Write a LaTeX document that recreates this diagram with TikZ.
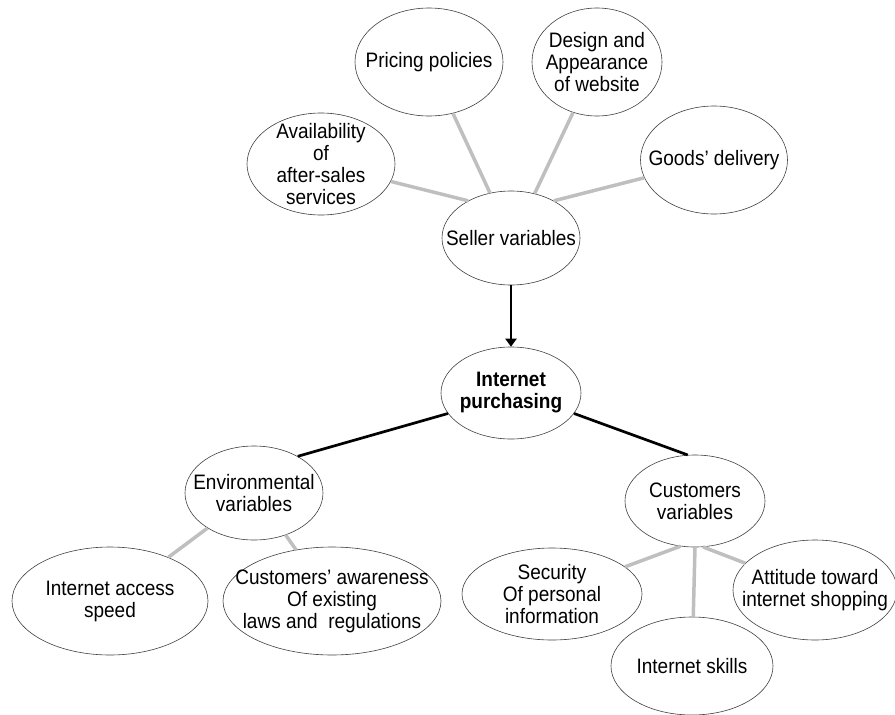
\documentclass[tikz,border=0pt]{standalone}
\usepackage{fontspec}
\setmainfont{Liberation Sans}
\usepackage{tikz}
\usetikzlibrary{shapes.geometric, arrows.meta}

\tikzset{
  bubble/.style={ellipse, draw=black!75, line width=0.6pt, fill=white, inner sep=0pt},
  txt/.style={align=center, font=\fontsize{19}{20}\selectfont, transform shape, yscale=1.1},
  graylink/.style={line width=3.5pt, black!25},
  blacklink/.style={line width=2.7pt, black},
}

\begin{document}
\begin{tikzpicture}[x=1pt, y=-1pt]
  \useasboundingbox (0,0) rectangle (895,715);

  % Seller side
  \node[bubble, minimum width=148, minimum height=108, label={[txt]center:Pricing policies}] (pricing) at (429,62) {};
  \node[bubble, minimum width=130, minimum height=108, label={[txt]center:Design and\\Appearance\\of website}] (design) at (597,62) {};
  \node[bubble, minimum width=148, minimum height=102, label={[txt]center:Availability\\of\\after-sales\\services}] (avail) at (321,164) {};
  \node[bubble, minimum width=147, minimum height=108, label={[txt]center:Goods’ delivery}] (goods) at (714,160) {};
  \node[bubble, minimum width=138, minimum height=94, label={[txt]center:Seller variables}] (seller) at (511,238) {};

  \draw[graylink] (avail) -- (seller.139);
  \draw[graylink] (pricing) -- (seller.115);
  \draw[graylink] (design) -- (seller.62);
  \draw[graylink] (goods) -- (seller.41);

  % Centre
  \node[bubble, minimum width=140, minimum height=92, label={[txt, font=\fontsize{19}{20}\selectfont\bfseries]center:Internet\\purchasing}] (purch) at (511,393) {};
  \draw[line width=2.7pt, -{Triangle[length=8pt, width=11pt]}] (seller) -- (purch);

  % Environmental side
  \node[bubble, minimum width=138, minimum height=94, label={[txt]center:Environmental\\variables}] (env) at (254,493) {};
  \node[bubble, minimum width=196, minimum height=108, label={[txt]center:Internet access\\speed}] (speed) at (110,601) {};
  \node[bubble, minimum width=218, minimum height=108, label={[txt]center:Customers’ awareness\\Of existing\\laws and~~regulations}] (laws) at (332,601) {};

  \draw[blacklink] (purch.198) -- (env.40);
  \draw[graylink] (speed) -- (env.217);
  \draw[graylink] (laws) -- (env.307);

  % Customers side
  \node[bubble, minimum width=140, minimum height=92, label={[txt]center:Customers\\variables}] (cust) at (695,501) {};
  \node[bubble, minimum width=180, minimum height=92, label={[txt]center:Security\\Of personal\\information}] (secur) at (552,594) {};
  \node[bubble, minimum width=164, minimum height=100, label={[txt]center:Attitude toward\\internet shopping}] (attit) at (815,590) {};
  \node[bubble, minimum width=162, minimum height=98, label={[txt]center:Internet skills}] (skills) at (692,666) {};

  \draw[blacklink] (purch.342) -- (cust.99);
  \draw[graylink] (secur) -- (cust.252);
  \draw[graylink] (skills) -- (cust.270);
  \draw[graylink] (attit) -- (cust.280);
\end{tikzpicture}
\end{document}
